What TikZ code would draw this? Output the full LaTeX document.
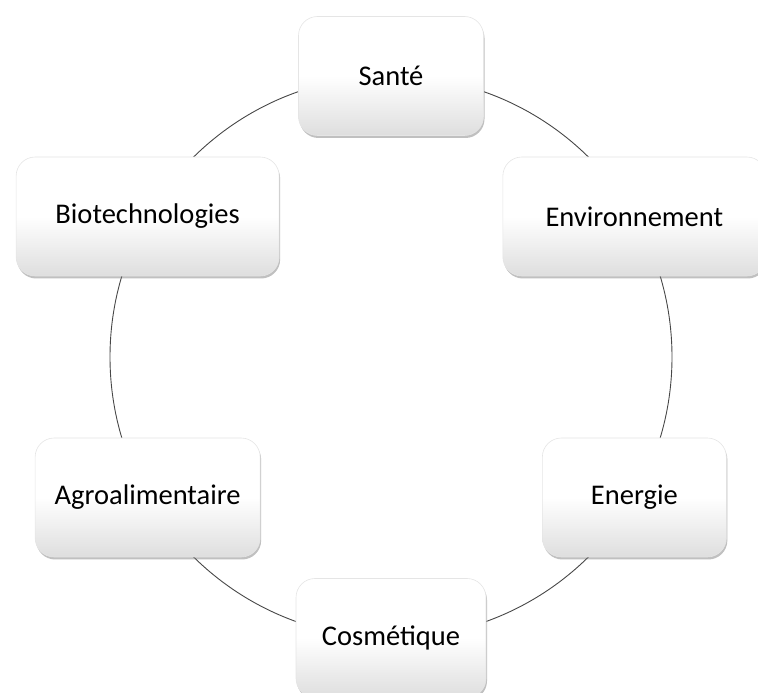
\documentclass[tikz,border=0pt]{standalone}
\usepackage{fontspec}
\setmainfont{Carlito}
\usetikzlibrary{shadows}
\tikzset{
  cyclebox/.style={rounded corners=19pt, minimum height=119pt, draw=black!10, line width=0.6pt,
    top color=white, bottom color=black!13, middle color=white,
    drop shadow={shadow xshift=1pt, shadow yshift=-2.5pt, opacity=0.45, fill=black!55},
    font=\fontsize{28.5}{34}\selectfont, inner sep=0pt},
  ring/.style={draw=black!72, line width=0.9pt}
}
\begin{document}
\begin{tikzpicture}[x=1pt,y=1pt]
\useasboundingbox (0,0) rectangle (758,693);
\coordinate (c) at (391,336);
\draw[ring] (c) circle (281);
\begin{scope}[shift={(391,336)}]
\node[cyclebox, minimum width=185pt] (sante) at (90:281) {Santé};
\node[cyclebox, minimum width=263pt] (env) at (30:281) {Environnement};
\node[cyclebox, minimum width=184pt] (energie) at (-30:281) {Energie};
\node[cyclebox, minimum width=190pt] (cosm) at (-90:281) {Cosmétique};
\node[cyclebox, minimum width=225pt] (agro) at (-150:281) {Agroalimentaire};
\node[cyclebox, minimum width=263pt] (bio) at (150:281) {Biotechnologies};
\end{scope}
\end{tikzpicture}
\end{document}
